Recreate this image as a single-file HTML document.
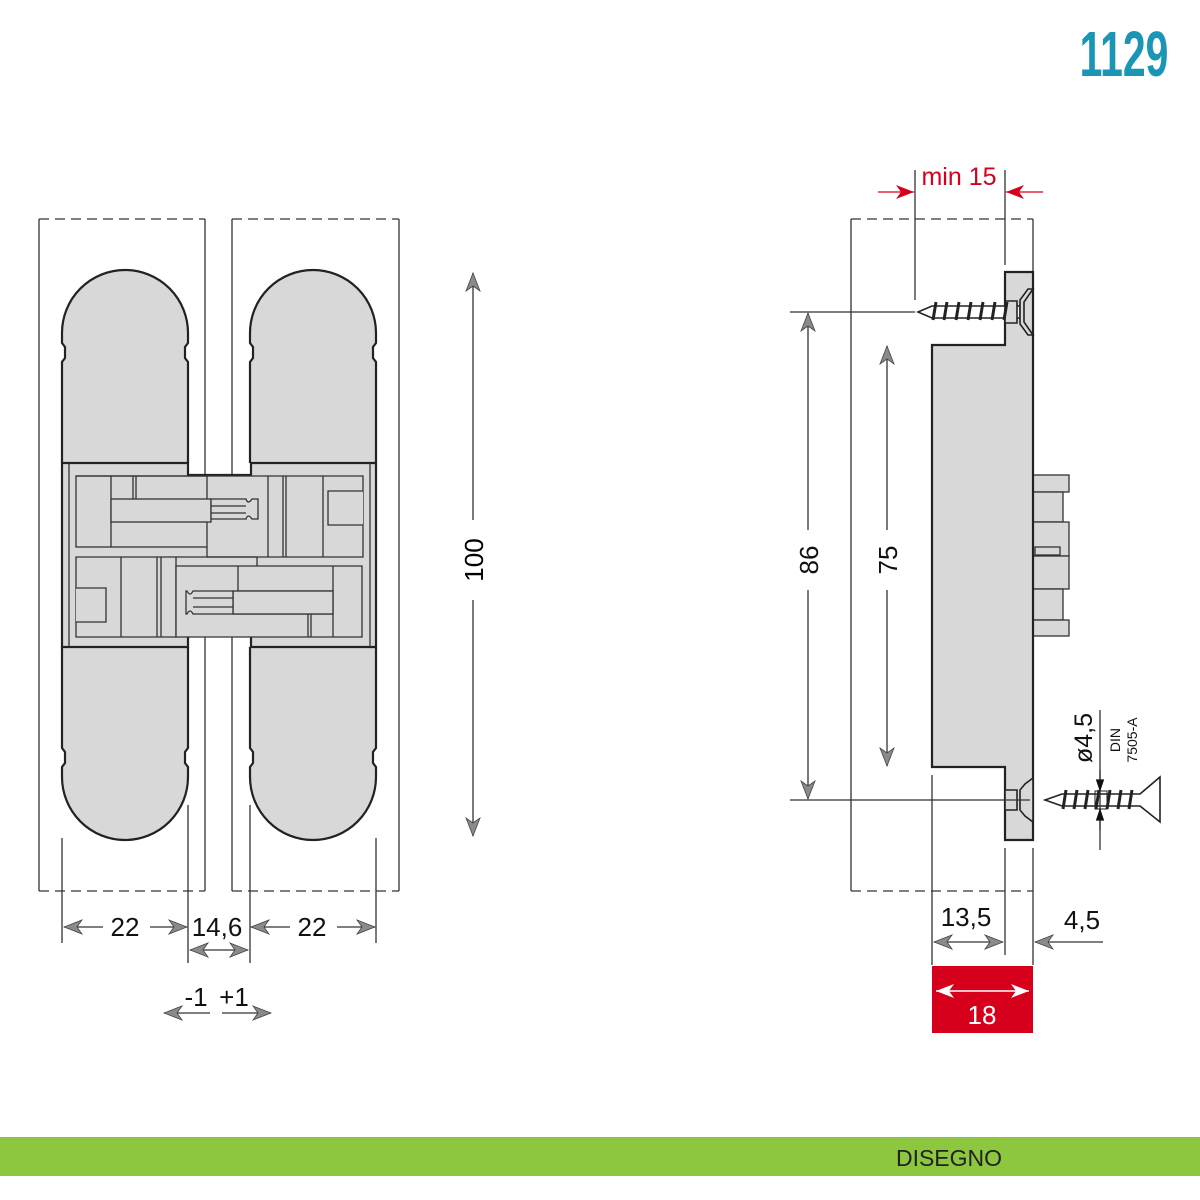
<!DOCTYPE html>
<html><head><meta charset="utf-8"><style>
html,body{margin:0;padding:0;background:#fff;width:1200px;height:1200px;overflow:hidden}
svg{display:block}
text{font-family:"Liberation Sans Narrow","Liberation Sans",sans-serif}
</style></head><body>
<svg width="1200" height="1200" viewBox="0 0 1200 1200" xmlns="http://www.w3.org/2000/svg">
<defs>
<marker id="a" viewBox="-1 -8 20 16" markerWidth="20" markerHeight="16" refX="18" refY="0" orient="auto-start-reverse" markerUnits="userSpaceOnUse">
<path d="M0,-7 L18,0 L0,7 L5,0 Z" fill="#8a8a8a" stroke="#444" stroke-width="0.8"/></marker>
<marker id="r" viewBox="-1 -8 20 16" markerWidth="20" markerHeight="16" refX="18" refY="0" orient="auto-start-reverse" markerUnits="userSpaceOnUse">
<path d="M0,-7 L18,0 L0,7 L5,0 Z" fill="#d6001c"/></marker>
<marker id="w" viewBox="-1 -8 20 16" markerWidth="20" markerHeight="16" refX="18" refY="0" orient="auto-start-reverse" markerUnits="userSpaceOnUse">
<path d="M0,-7 L18,0 L0,7 L5,0 Z" fill="#fff"/></marker>
<marker id="b" viewBox="-1 -8 20 16" markerWidth="14" markerHeight="12" refX="18" refY="0" orient="auto" markerUnits="userSpaceOnUse">
<path d="M0,-6 L18,0 L0,6 Z" fill="#111"/></marker>
<path id="leaf" d="M62,463 L62,362 L65,358 L65,347 L62,343 L62,333 A63,63 0 0 1 188,333 L188,343 L185,347 L185,358 L188,362 L188,463"/>
</defs>

<!-- 1129 -->
<text x="1124" y="76" font-size="64" font-weight="bold" fill="#1a95b5" text-anchor="middle" transform="translate(1124 0) scale(0.64 1) translate(-1124 0)">1129</text>

<!-- frames left -->
<g stroke="#333" stroke-width="1.3" fill="none">
<path d="M39,219 L39,891 M205,219 L205,891 M232,219 L232,891 M399,219 L399,891"/>
<path d="M39,219 L205,219 M232,219 L399,219 M39,891 L205,891 M232,891 L399,891" stroke-dasharray="10,6"/>
</g>

<!-- leaves -->
<g fill="#d8d8d8" stroke="#222" stroke-width="2.2">
<use href="#leaf"/>
<use href="#leaf" transform="translate(188,0)"/>
<use href="#leaf" transform="translate(0,1110) scale(1,-1)"/>
<use href="#leaf" transform="translate(188,1110) scale(1,-1)"/>
<path d="M62,463 L188,463 L188,475 L251,475 L251,463 L376,463 L376,647 L251,647 L251,636 L188,636 L188,647 L62,647 Z"/>
</g>
<!-- mechanism -->
<g fill="#d8d8d8" stroke="#333" stroke-width="1.3">
<path d="M69,463 L69,647 M370,463 L370,647" fill="none"/>
<rect x="76" y="476" width="131" height="71"/>
<path d="M111,476 L111,547 M133,476 L133,499 M136,476 L136,499" fill="none"/>
<path d="M76,476 L268,476 L268,557" fill="none"/>
<rect x="111" y="499" width="100" height="23"/>
<path d="M211,499 L246,499 Q248,505 252,499 L258,499 L258,519 L252,519 Q248,513 246,519 L211,519 Z"/>
<path d="M211,506 L246,506 M211,513 L246,513" fill="none"/>
<path d="M207,547 L207,557 L363,557 L363,476 L268,476" fill="none"/>
<path d="M283,476 L283,557 M286,476 L286,557 M323,476 L323,557" fill="none"/>
<path d="M363,491 L328,491 L328,525 L363,525" fill="#d8d8d8"/>
<path d="M76,557 L176,557 L176,637 L76,637 Z" fill="none"/>
<path d="M76,588 L106,588 L106,622 L76,622" fill="#d8d8d8"/>
<path d="M121,557 L121,637 M157,557 L157,637 M161,557 L161,637" fill="none"/>
<path d="M176,566 L362,566 L362,637 L176,637 Z"/>
<path d="M176,557 L257,557 L257,566 M238,566 L238,591 L333,591 M333,566 L333,637 M233,614 L333,614 M308,614 L308,637 M311,614 L311,637" fill="none"/>
<rect x="233" y="591" width="100" height="23"/>
<path d="M233,591 L193,591 Q190,597 187,591 L186,591 L186,614 L187,614 Q190,608 193,614 L233,614 Z"/>
<path d="M193,598 L233,598 M193,607 L233,607" fill="none"/>
</g>

<!-- 100 dim -->
<g stroke="#333" stroke-width="1.3" fill="none">
<line x1="473" y1="520" x2="473" y2="273" marker-end="url(#a)"/>
<line x1="473" y1="600" x2="473" y2="836" marker-end="url(#a)"/>
</g>
<text x="0" y="0" font-size="26" text-anchor="middle" transform="translate(483 560) rotate(-90)">100</text>

<!-- bottom dims left -->
<g stroke="#333" stroke-width="1.3" fill="none">
<path d="M62,838 L62,943 M188,805 L188,963 M250,805 L250,963 M376,838 L376,943"/>
<line x1="103" y1="927" x2="64" y2="927" marker-end="url(#a)"/>
<line x1="150" y1="927" x2="187" y2="927" marker-end="url(#a)"/>
<line x1="290" y1="927" x2="251" y2="927" marker-end="url(#a)"/>
<line x1="337" y1="927" x2="375" y2="927" marker-end="url(#a)"/>
<line x1="190" y1="950" x2="248" y2="950" marker-start="url(#a)" marker-end="url(#a)"/>
<line x1="210" y1="1013" x2="164" y2="1013" marker-end="url(#a)"/>
<line x1="222" y1="1013" x2="271" y2="1013" marker-end="url(#a)"/>
</g>
<g font-size="26" text-anchor="middle" fill="#111">
<text x="125" y="936">22</text>
<text x="217" y="936">14,6</text>
<text x="312" y="936">22</text>
<text x="196" y="1006">-1</text>
<text x="234" y="1006">+1</text>
</g>

<!-- right frame -->
<g stroke="#333" stroke-width="1.3" fill="none">
<path d="M851,219 L851,891 M1033,219 L1033,272"/>
<path d="M851,219 L1033,219 M851,891 L1033,891" stroke-dasharray="10,6"/>
</g>
<!-- side blocks -->
<g fill="#d8d8d8" stroke="#333" stroke-width="1.3">
<rect x="1033" y="475" width="36" height="17"/>
<rect x="1033" y="492" width="30" height="30"/>
<rect x="1033" y="522" width="36" height="34"/>
<rect x="1033" y="556" width="36" height="33"/>
<rect x="1033" y="589" width="30" height="31"/>
<rect x="1033" y="620" width="36" height="16"/>
<rect x="1035" y="547" width="25" height="8"/>
</g>
<!-- profile -->
<path d="M1005,272 L1033,272 L1033,840 L1005,840 L1005,767 L932,767 L932,345 L1005,345 Z" fill="#d8d8d8" stroke="#222" stroke-width="2.2"/>
<!-- top screw -->
<g stroke="#222" stroke-width="1.6" fill="#d8d8d8">
<path d="M918,312 L932,306 L1020,306 L1020,318 L932,318 Z" fill="#fff"/>
<path d="M1005,301 L1017,301 L1017,323 L1005,323 Z" fill="#d8d8d8"/>
<path d="M1020,300 L1028,289 L1033,289 L1024,302 L1024,322 L1033,335 L1028,335 L1020,324 Z"/>
<path d="M936,302 L933,320 M947,302 L944,320 M959,302 L956,320 M971,302 L968,320 M983,302 L980,320 M995,302 L992,320 M1007,302 L1004,320" stroke-width="3" fill="none"/>
</g>
<!-- bottom screw -->
<g stroke="#222" stroke-width="1.6" fill="#d8d8d8">
<path d="M1045,800 L1062,794 L1140,794 L1160,777 L1160,822 L1140,806 L1062,806 Z" fill="#fff"/>
<path d="M1005,790 L1017,790 L1017,810 L1005,810 Z"/>
<path d="M1033,778 L1025,784 L1020,790 L1020,810 L1025,816 L1033,822 Z"/>
<path d="M1066,790 L1063,809 M1077,790 L1074,809 M1088,790 L1085,809 M1099,790 L1096,809 M1110,790 L1107,809 M1121,790 L1118,809 M1132,790 L1129,809" stroke-width="3" fill="none"/>
<rect x="1095" y="791" width="12" height="18" fill="none" stroke-width="1"/>
</g>

<!-- right dims -->
<g stroke="#333" stroke-width="1.3" fill="none">
<path d="M790,312 L915,312 M790,800 L1030,800"/>
<line x1="808" y1="530" x2="808" y2="313" marker-end="url(#a)"/>
<line x1="808" y1="590" x2="808" y2="799" marker-end="url(#a)"/>
<line x1="887" y1="530" x2="887" y2="346" marker-end="url(#a)"/>
<line x1="887" y1="590" x2="887" y2="766" marker-end="url(#a)"/>
<path d="M932,775 L932,965 M1005,848 L1005,955 M1033,848 L1033,965"/>
<line x1="934" y1="942" x2="1003" y2="942" marker-start="url(#a)" marker-end="url(#a)"/>
<line x1="1103" y1="942" x2="1035" y2="942" marker-end="url(#a)"/>
<line x1="1100" y1="710" x2="1100" y2="850"/>
<line x1="1100" y1="770" x2="1100" y2="792" marker-end="url(#b)"/>
<line x1="1100" y1="830" x2="1100" y2="808" marker-end="url(#b)"/>
</g>
<g font-size="26" text-anchor="middle" fill="#111">
<text transform="translate(818 560) rotate(-90)">86</text>
<text transform="translate(897 560) rotate(-90)">75</text>
<text x="966" y="926">13,5</text>
<text x="1082" y="929">4,5</text>
<text transform="translate(1092 738) rotate(-90)" font-size="25">ø4,5</text>
<text transform="translate(1120 740) rotate(-90)" font-size="14">DIN</text>
<text transform="translate(1137 740) rotate(-90)" font-size="14">7505-A</text>
</g>
<!-- min 15 -->
<g stroke="#333" stroke-width="1.3"><path d="M915,170 L915,300 M1005,170 L1005,265"/></g>
<g stroke="#d6001c" stroke-width="1.3">
<line x1="878" y1="192" x2="914" y2="192" marker-end="url(#r)"/>
<line x1="1043" y1="192" x2="1006" y2="192" marker-end="url(#r)"/>
</g>
<text x="959" y="185" font-size="25" text-anchor="middle" fill="#d6001c">min 15</text>
<!-- 18 -->
<rect x="932" y="966" width="101" height="67" fill="#d6001c"/>
<line x1="936" y1="991" x2="1029" y2="991" stroke="#fff" stroke-width="1.5" marker-start="url(#w)" marker-end="url(#w)"/>
<text x="982" y="1024" font-size="26" text-anchor="middle" fill="#fff">18</text>

<!-- bottom bar -->
<rect x="0" y="1137" width="1200" height="39" fill="#8dc63f"/>
<text x="949" y="1166" font-size="23" text-anchor="middle" fill="#222" style="font-family:'Liberation Sans',sans-serif">DISEGNO</text>
</svg>
</body></html>
